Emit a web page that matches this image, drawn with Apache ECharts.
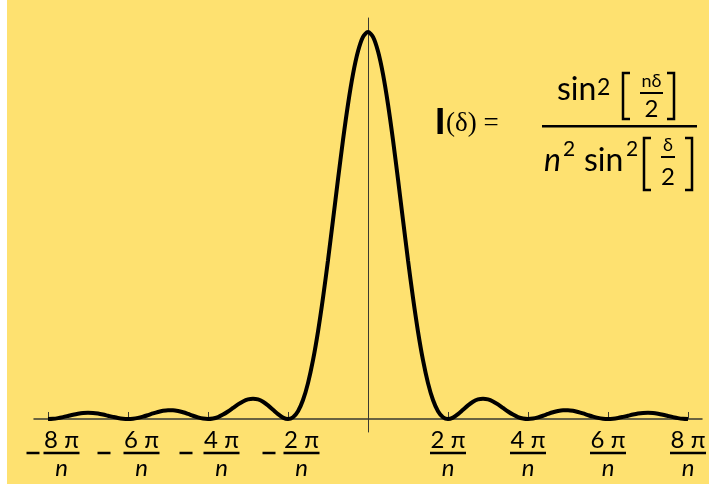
<!DOCTYPE html>
<html><head><meta charset="utf-8">
<script src="https://cdn.jsdelivr.net/npm/echarts@6/dist/echarts.min.js"></script>
<style>html,body{margin:0;padding:0;background:#fff;}#c{width:709px;height:484px;background:linear-gradient(to right,#fff 0,#fff 7px,#FEE170 7px);}</style>
</head><body><div id="c"></div>
<script>
// delta in units of pi/n
const xValues = [-8,-7.875,-7.75,-7.625,-7.5,-7.375,-7.25,-7.125,-7,-6.875,-6.75,-6.625,-6.5,-6.375,-6.25,-6.125,-6,-5.875,-5.75,-5.625,-5.5,-5.375,-5.25,-5.125,-5,-4.875,-4.75,-4.625,-4.5,-4.375,-4.25,-4.125,-4,-3.875,-3.75,-3.625,-3.5,-3.375,-3.25,-3.125,-3,-2.875,-2.75,-2.625,-2.5,-2.375,-2.25,-2.125,-2,-1.875,-1.75,-1.625,-1.5,-1.375,-1.25,-1.125,-1,-0.875,-0.75,-0.625,-0.5,-0.375,-0.25,-0.125,0,0.125,0.25,0.375,0.5,0.625,0.75,0.875,1,1.125,1.25,1.375,1.5,1.625,1.75,1.875,2,2.125,2.25,2.375,2.5,2.625,2.75,2.875,3,3.125,3.25,3.375,3.5,3.625,3.75,3.875,4,4.125,4.25,4.375,4.5,4.625,4.75,4.875,5,5.125,5.25,5.375,5.5,5.625,5.75,5.875,6,6.125,6.25,6.375,6.5,6.625,6.75,6.875,7,7.125,7.25,7.375,7.5,7.625,7.75,7.875,8];
const intensity = [0,0.0006,0.0023,0.0049,0.0079,0.011,0.0136,0.0155,0.0162,0.0158,0.0142,0.0116,0.0085,0.0054,0.0026,0.0007,0,0.0007,0.0028,0.006,0.01,0.0143,0.0181,0.0211,0.0226,0.0225,0.0207,0.0174,0.0131,0.0084,0.0042,0.0011,0,0.0013,0.0051,0.0113,0.0194,0.0285,0.0376,0.0453,0.0506,0.0525,0.0505,0.0445,0.0352,0.0239,0.0125,0.0036,0,0.0046,0.0202,0.049,0.0927,0.1519,0.2259,0.3131,0.4105,0.5143,0.6194,0.7209,0.8131,0.8912,0.9501,0.9874,1,0.9874,0.9501,0.8912,0.8131,0.7209,0.6194,0.5143,0.4105,0.3131,0.2259,0.1519,0.0927,0.049,0.0202,0.0046,0,0.0036,0.0125,0.0239,0.0352,0.0445,0.0505,0.0525,0.0506,0.0453,0.0376,0.0285,0.0194,0.0113,0.0051,0.0013,0,0.0011,0.0042,0.0084,0.0131,0.0174,0.0207,0.0225,0.0226,0.0211,0.0181,0.0143,0.01,0.006,0.0028,0.0007,0,0.0007,0.0026,0.0054,0.0085,0.0116,0.0142,0.0158,0.0162,0.0155,0.0136,0.011,0.0079,0.0049,0.0023,0.0006,0];
const tickValues = [-8,-6,-4,-2,2,4,6,8];
const tickNumerators = ['8 π','6 π','4 π','2 π','2 π','4 π','6 π','8 π'];
const tickDenominator = 'n';

const chart = echarts.init(document.getElementById('c'), null, {renderer:'canvas'});

const SANS = 'Lato, "DejaVu Sans", sans-serif';
const K_LATO = 0.387, K_LIBS = 0.3465, K_LIBSERIF = 0.3375;
function txt(text, x, base, fs, fam, k, extra){
  return {type:'text', x:x, y:base - k*fs, silent:true,
    style:Object.assign({text:text, fontSize:fs, fontFamily:fam, fill:'#000',
      align:'left', verticalAlign:'middle', textAlign:'left', textVerticalAlign:'middle'}, extra||{})};
}
function pl(points){ return {type:'polyline', silent:true, shape:{points:points}, style:{stroke:'#000', lineWidth:2.5, fill:null}}; }
function bar(x,y,w,h){ return {type:'rect', silent:true, shape:{x:x,y:y,width:w,height:h}, style:{fill:'#000'}}; }
const C = {align:'center', textAlign:'center'};

const graphics = [
  txt('I', 435, 137, 37, '"Liberation Sans", Arial, sans-serif', K_LIBS, {fontWeight:'bold'}),
  txt('(δ) =', 446, 133, 27, '"Liberation Serif", "Times New Roman", serif', K_LIBSERIF),
  // numerator
  txt('sin', 557, 102, 32, SANS, K_LATO),
  txt('2', 597, 96, 23, SANS, K_LATO),
  pl([[630,73],[623,73],[623,119],[630,119]]),
  txt('nδ', 651.5, 88, 18, SANS, K_LATO, C),
  bar(640, 92, 23, 2),
  txt('2', 651.5, 119, 24, SANS, K_LATO, C),
  pl([[667,73],[674,73],[674,119],[667,119]]),
  // main fraction bar
  bar(542, 125, 155, 2.5),
  // denominator
  txt('n', 544, 173, 32, SANS, K_LATO, {fontStyle:'italic'}),
  txt('2', 563, 157, 21, SANS, K_LATO),
  txt('sin', 584, 173, 32, SANS, K_LATO),
  txt('2', 626, 157, 21, SANS, K_LATO),
  pl([[651,138],[644,138],[644,190],[651,190]]),
  txt('δ', 668, 152, 18, SANS, K_LATO, C),
  bar(661, 156, 14, 2),
  txt('2', 668, 187, 24, SANS, K_LATO, C),
  pl([[685,138],[692,138],[692,190],[685,190]])
];

const negPad = {'-8':10,'-6':1,'-4':3,'-2':6};
const rich = {
  num:{fontSize:24, fontFamily:SANS, color:'#000', width:36, align:'center', lineHeight:19},
  den:{fontSize:24, fontFamily:SANS, fontStyle:'italic', color:'#000', width:36, align:'center', lineHeight:25},
  lp1:{width:27, fontSize:10, lineHeight:19},
  lp3:{width:27, fontSize:10, lineHeight:25},
  bar:{width:36, height:2.5, backgroundColor:'#000', fontSize:1, lineHeight:6},
  minus:{width:13, height:2.5, backgroundColor:'#000', fontSize:1, lineHeight:6}
};
[1,3,6,10].forEach(p=>{ rich['p'+p] = {width:p, height:2, fontSize:1, lineHeight:6}; rich['g'+(14-p)] = {width:14-p, height:2, fontSize:1, lineHeight:6}; });

function labelFmt(v){
  const r = Math.round(v);
  const i = tickValues.indexOf(r);
  const num = tickNumerators[i];
  if (r < 0) {
    const p = negPad[String(r)];
    return '{lp1| }{num|' + num + '}\n{p' + p + '| }{minus| }{g' + (14-p) + '| }{bar| }\n{lp3| }{den|' + tickDenominator + '}';
  }
  return '{num|' + num + '}\n{bar| }\n{den|' + tickDenominator + '}';
}

chart.setOption({
  animation:false,
  backgroundColor:'transparent',
  grid:{left:34, right:7, top:18, bottom:52, containLabel:false, outerBoundsMode:'none'},
  xAxis:{type:'value', min:-8.35, max:8.35,
    axisLine:{onZero:true, lineStyle:{color:'#3a3a30', width:1.5}},
    axisTick:{show:true, inside:true, length:7, customValues:tickValues, lineStyle:{color:'#3a3a30', width:1}},
    axisLabel:{show:true, customValues:tickValues, margin:-1, formatter:labelFmt, rich:rich, align:'center'},
    splitLine:{show:false}},
  yAxis:{type:'value', min:-0.0336, max:1.0362,
    axisLine:{show:true, onZero:true, lineStyle:{color:'#3a3a30', width:1}},
    axisTick:{show:false}, axisLabel:{show:false}, splitLine:{show:false}},
  series:[{type:'line', data:xValues.map((x,i)=>[x,intensity[i]]), showSymbol:false, smooth:0.3,
    lineStyle:{color:'#000', width:4}, silent:true, z:3}],
  graphic:graphics
});
</script></body></html>
